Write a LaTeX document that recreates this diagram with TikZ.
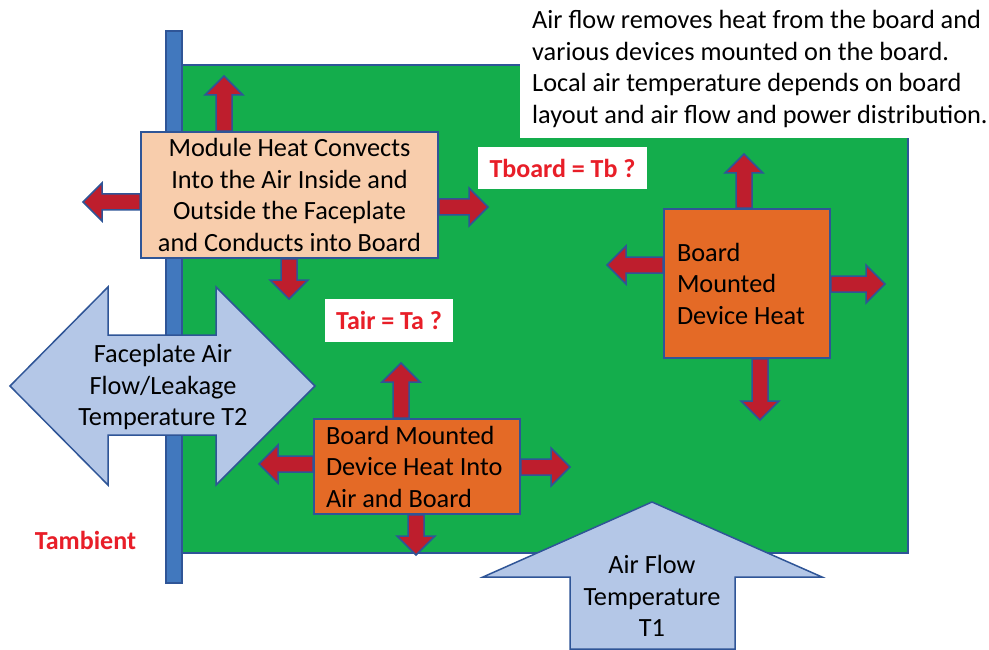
\documentclass[tikz,border=0pt]{standalone}
\usepackage{fontspec}
\setmainfont{Carlito}
\usetikzlibrary{calc}
\pgfdeclarelayer{back}
\pgfdeclarelayer{mid}
\pgfsetlayers{back,mid,main}
\definecolor{boardgreen}{RGB}{20,173,76}
\definecolor{edgeblue}{RGB}{47,85,151}
\definecolor{heatred}{RGB}{190,30,45}
\definecolor{peach}{RGB}{248,205,172}
\definecolor{devorange}{RGB}{228,106,38}
\definecolor{airblue}{RGB}{180,199,231}
\definecolor{plateblue}{RGB}{65,120,190}
\definecolor{labelred}{RGB}{232,30,40}
\newcommand\heatarrow[2]{%
 \begin{pgfonlayer}{mid}
 \coordinate (ha-s) at (#1);
 \coordinate (ha-e) at (#2);
 \coordinate (ha-h) at ($(ha-e)!19pt!(ha-s)$);
 \draw[heat] ($(ha-s)!8pt!90:(ha-e)$) -- ($(ha-h)!8pt!90:(ha-e)$) -- ($(ha-h)!19pt!90:(ha-e)$) -- (ha-e) -- ($(ha-h)!19pt!-90:(ha-e)$) -- ($(ha-h)!8pt!-90:(ha-e)$) -- ($(ha-s)!8pt!-90:(ha-e)$) -- cycle;
 \end{pgfonlayer}}
\begin{document}
\begin{tikzpicture}[x=1pt,y=-1pt,
 txt/.style={font=\fontsize{26.3}{31.5}\selectfont},
 heat/.style={fill=heatred, draw=edgeblue, line width=1.5pt, line join=miter},
 modbox/.style={txt, draw=edgeblue, line width=1.8pt, fill=peach, align=center, minimum width=297pt, minimum height=126pt, inner sep=0pt},
 devbox/.style={txt, draw=edgeblue, line width=1.8pt, fill=devorange, align=left, inner ysep=0pt,
   execute at begin node={\spaceskip=0pt\xspaceskip=0pt\relax}},
 tlabel/.style={font=\fontsize{26}{31.5}\selectfont\bfseries, text=labelred},
 flowarrow/.style={fill=airblue, draw=edgeblue, line width=1.5pt, line join=miter}]
\useasboundingbox (0,0) rectangle (989,650);
\begin{pgfonlayer}{back}
\fill[white] (0,0) rectangle (989,650);
\draw[fill=boardgreen, draw=edgeblue, line width=1.2pt] (182,65) rectangle (908,553);
\draw[fill=plateblue, draw=edgeblue, line width=1.2pt] (166,31) rectangle (182,583);
\end{pgfonlayer}

\node[modbox] (mod) at (289.5,195) {Module Heat Convects\\Into the Air Inside and\\Outside the Faceplate\\and Conducts into Board};
\node[devbox, text width=182pt, inner xsep=12pt, minimum height=95pt] (dev1) at (417,466.5) {Board Mounted\\Device Heat Into\\Air and Board};
\node[devbox, text width=140pt, inner xsep=13pt, minimum height=149pt] (dev2) at (747,283.5) {Board\\Mounted\\Device Heat};

\coordinate (m-up) at (224,76);
\coordinate (m-left) at (83,202);
\coordinate (m-right) at (488,207);
\coordinate (m-down) at (289,299);
\heatarrow{mod.north -| m-up}{m-up}
\heatarrow{mod.west |- m-left}{m-left}
\heatarrow{mod.east |- m-right}{m-right}
\heatarrow{mod.south -| m-down}{m-down}

\coordinate (d1-up) at (401,363);
\coordinate (d1-left) at (259,464);
\coordinate (d1-right) at (570,467);
\coordinate (d1-down) at (416,555);
\heatarrow{dev1.north -| d1-up}{d1-up}
\heatarrow{dev1.west |- d1-left}{d1-left}
\heatarrow{dev1.east |- d1-right}{d1-right}
\heatarrow{dev1.south -| d1-down}{d1-down}

\coordinate (d2-up) at (744,154);
\coordinate (d2-left) at (607,265);
\coordinate (d2-right) at (885,284);
\coordinate (d2-down) at (760,420);
\heatarrow{dev2.north -| d2-up}{d2-up}
\heatarrow{dev2.west |- d2-left}{d2-left}
\heatarrow{dev2.east |- d2-right}{d2-right}
\heatarrow{dev2.south -| d2-down}{d2-down}

\draw[flowarrow] (10,386) -- (108,287) -- (108,335) -- (216,335) -- (216,287) -- (315,386) -- (216,485) -- (216,435) -- (108,435) -- (108,485) -- cycle;
\node[txt, align=center] (fp) at (163,387) {Faceplate Air\\Flow/Leakage\\Temperature T2};

\draw[flowarrow] (652,502) -- (822,577) -- (735,577) -- (735,649) -- (570,649) -- (570,577) -- (483,577) -- cycle;
\node[txt, align=center] (af) at (652,596) {Air Flow\\Temperature\\T1};

\node[tlabel, fill=white, minimum width=169pt, minimum height=42pt, inner sep=0pt] (tb) at (562.5,168) {Tboard = Tb ?};
\node[tlabel, fill=white, minimum width=128pt, minimum height=43pt, inner sep=0pt] (ta) at (389,320.5) {Tair = Ta ?};
\node[tlabel] (tamb) at (85.5,540) {Tambient};

\fill[white] (520,0) rectangle (989,138);
\node[txt, align=left, anchor=west, inner sep=0pt] (note) at (532,69) {Air flow removes heat from the board and\\various devices mounted on the board.\\Local air temperature depends on board\\layout and air flow and power distribution.};
\end{tikzpicture}
\end{document}
